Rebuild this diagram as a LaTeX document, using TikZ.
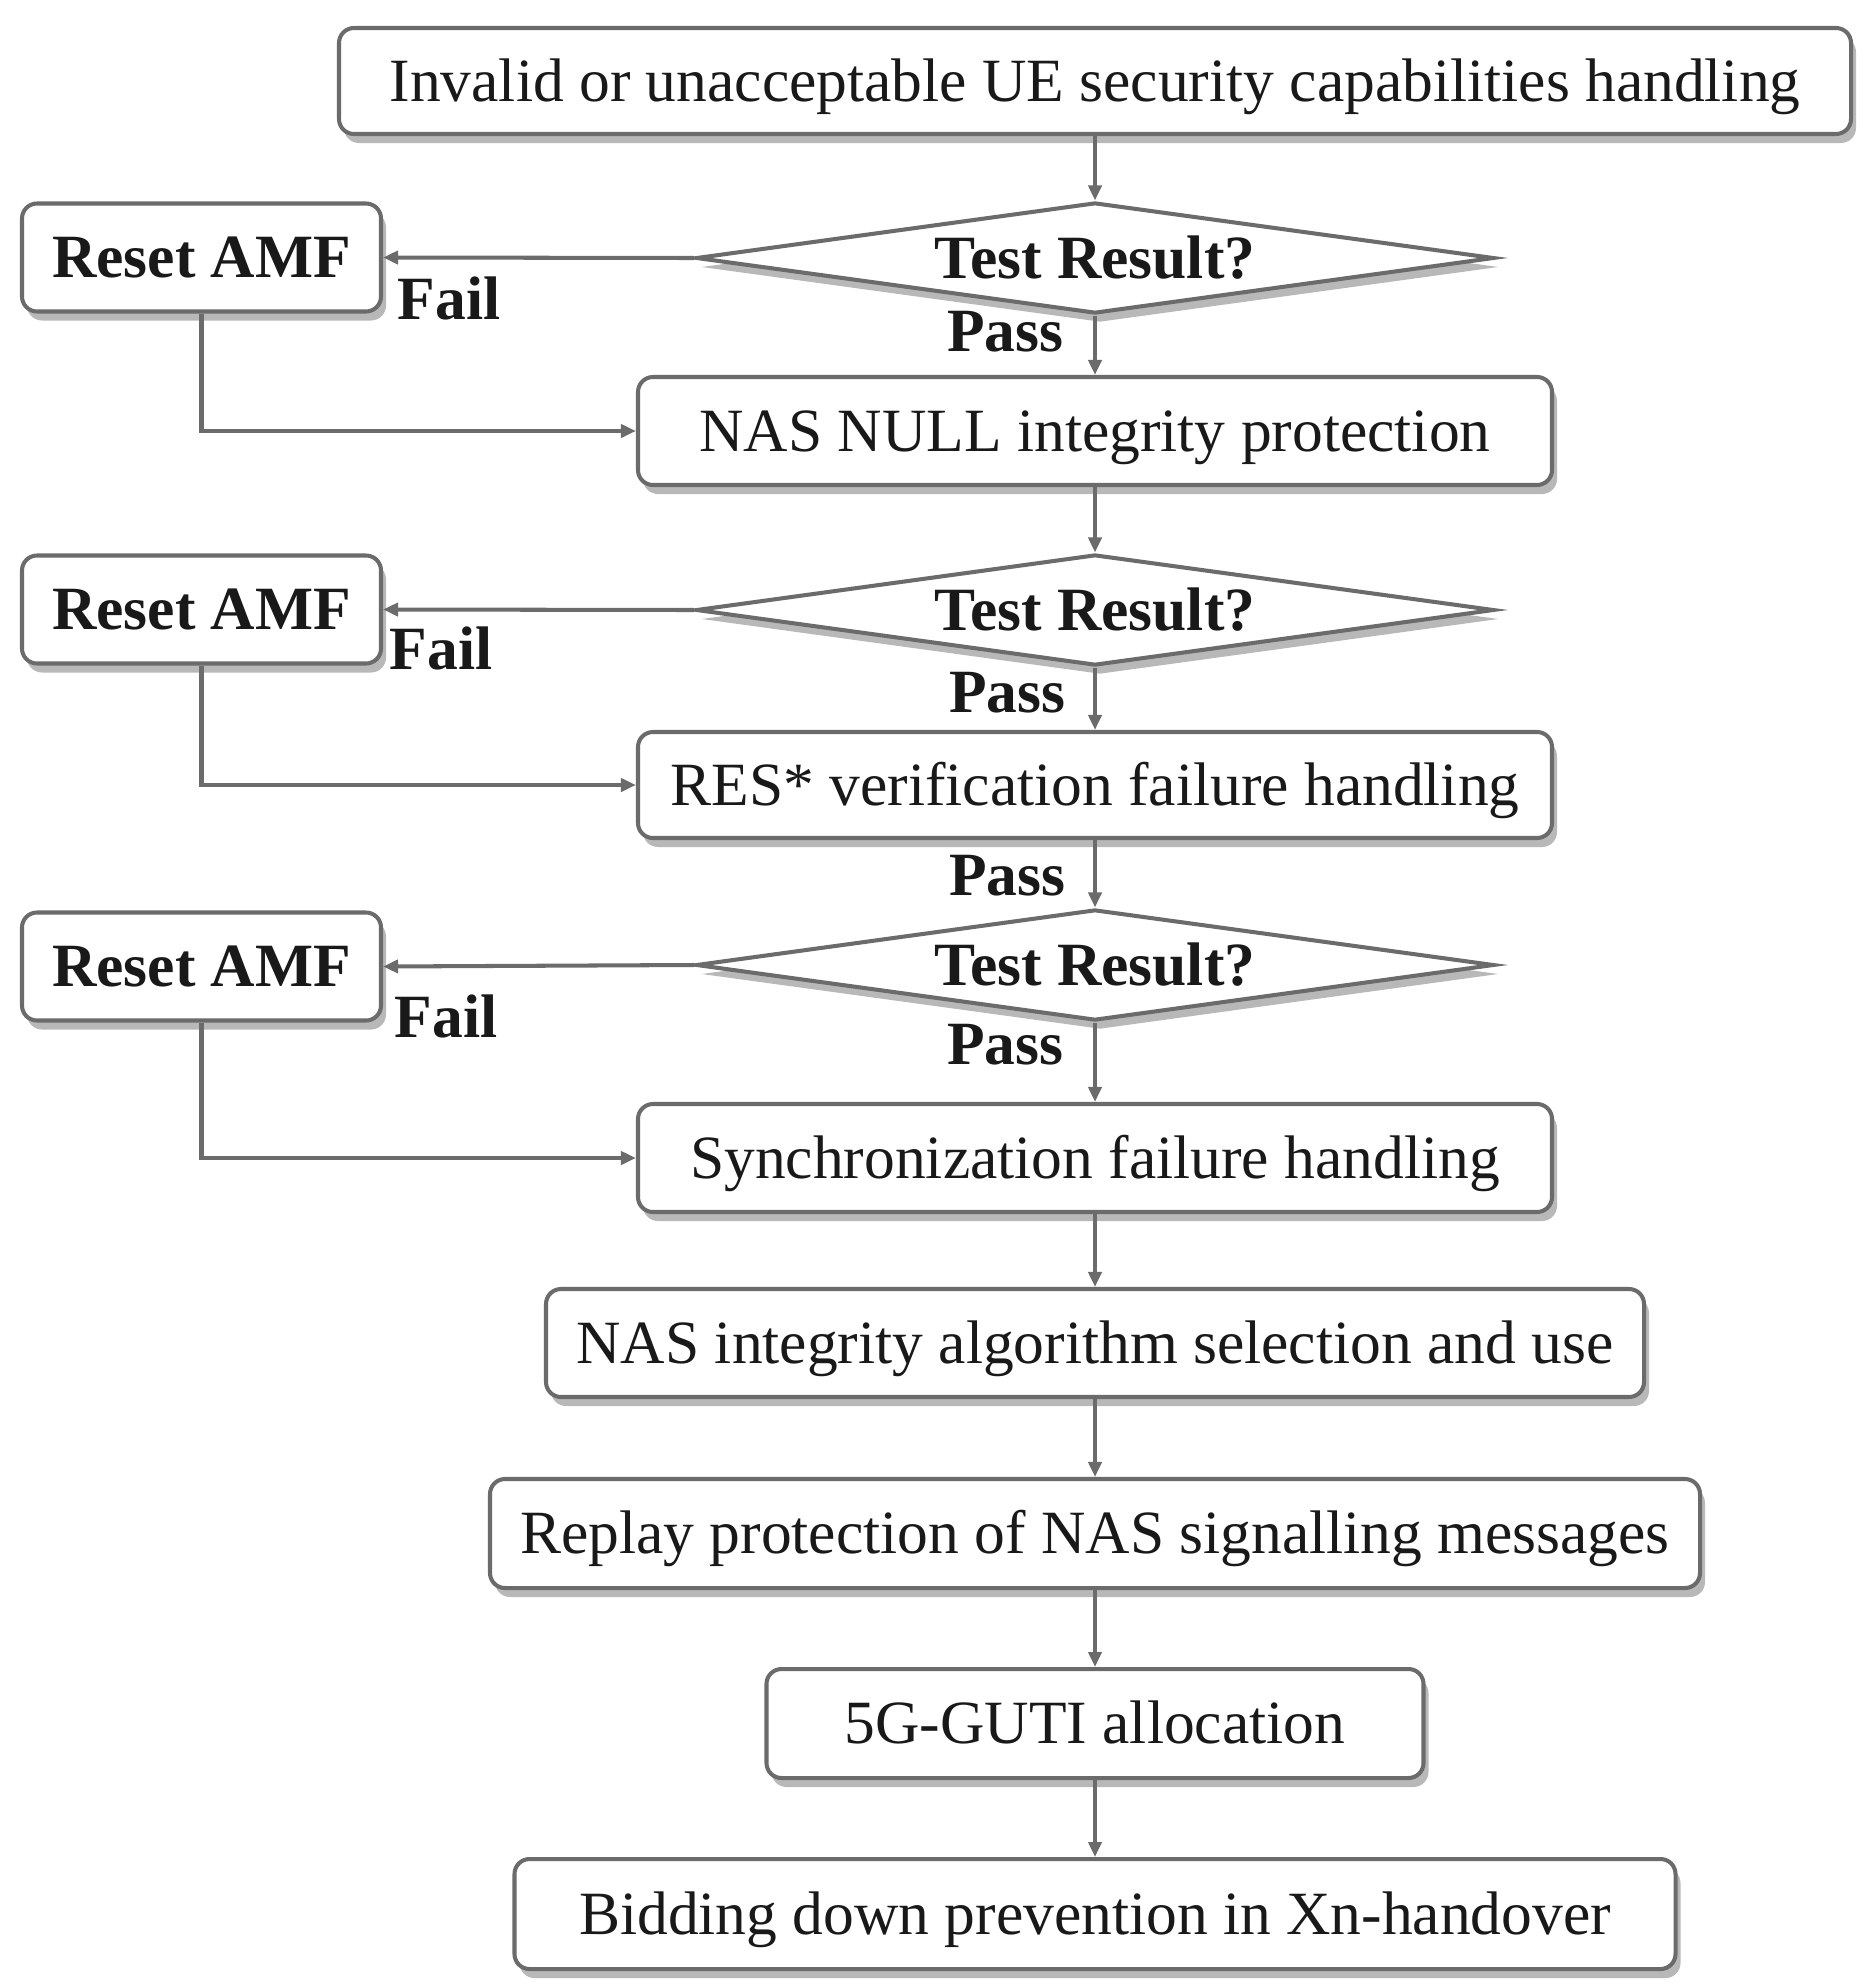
\documentclass[tikz,border=0pt]{standalone}
\usepackage{fontspec}
\setmainfont{Liberation Serif}
\usetikzlibrary{shapes.geometric,arrows.meta,shadows}
\begin{document}
\begin{tikzpicture}[
  x=1cm,y=1cm,
  font=\fontsize{17.5pt}{20pt}\selectfont,
  lc/.style={draw=black!58, line width=1.15pt},
  shad/.style={drop shadow={shadow xshift=0.5mm, shadow yshift=-0.9mm, fill=black, opacity=0.28}},
  procbox/.style={lc, shad, fill=white, rounded corners=0.15cm, inner sep=0pt, text=black!90, text height=11.6pt, text depth=0pt},
  resetbox/.style={procbox, font=\fontsize{17.5pt}{20pt}\selectfont\bfseries, minimum width=3.59cm, minimum height=1.08cm},
  testdia/.style={lc, shad, fill=white, diamond, aspect=7.2, inner sep=0pt, minimum width=7.98cm, minimum height=1.11cm, font=\fontsize{17.5pt}{20pt}\selectfont\bfseries, text=black!90, text height=11.6pt, text depth=0pt},
  lbl/.style={font=\fontsize{17.5pt}{20pt}\selectfont\bfseries, inner sep=0pt, text=black!90},
  conn/.style={lc, -{Triangle[length=1.5mm,width=1.3mm]}}
]
\useasboundingbox (0,0) rectangle (18.73,-19.86);

\node[procbox, minimum width=15.12cm, minimum height=1.06cm] (top) at (10.95,-0.81) {Invalid or unacceptable UE security capabilities handling};

\node[testdia] (d1) at (10.95,-2.58) {Test Result?};
\node[resetbox] (r1) at (2.015,-2.575) {Reset AMF};
\node[procbox, minimum width=9.14cm, minimum height=1.08cm] (b1) at (10.95,-4.31) {NAS NULL integrity protection};

\node[testdia] (d2) at (10.95,-6.10) {Test Result?};
\node[resetbox] (r2) at (2.015,-6.095) {Reset AMF};
\node[procbox, minimum width=9.14cm, minimum height=1.06cm] (b2) at (10.95,-7.85) {RES* verification failure handling};

\node[testdia] (d3) at (10.95,-9.65) {Test Result?};
\node[resetbox] (r3) at (2.015,-9.665) {Reset AMF};
\node[procbox, minimum width=9.14cm, minimum height=1.08cm] (b3) at (10.95,-11.58) {Synchronization failure handling};

\node[procbox, minimum width=10.98cm, minimum height=1.08cm] (b4) at (10.95,-13.43) {NAS integrity algorithm selection and use};
\node[procbox, minimum width=12.10cm, minimum height=1.09cm] (b5) at (10.95,-15.335) {Replay protection of NAS signalling messages};
\node[procbox, minimum width=6.57cm, minimum height=1.09cm] (b6) at (10.95,-17.235) {5G-GUTI allocation};
\node[procbox, minimum width=11.61cm, minimum height=1.10cm] (b7) at (10.95,-19.14) {Bidding down prevention in Xn-handover};

% labels
\node[lbl, anchor=west] (f1) at (3.97,-2.98) {Fail};
\node[lbl, anchor=west] (f2) at (3.89,-6.48) {Fail};
\node[lbl, anchor=west] (f3) at (3.94,-10.16) {Fail};
\node[lbl, anchor=east] (p1) at (10.64,-3.32) {Pass};
\node[lbl, anchor=east] (p2) at (10.66,-6.93) {Pass};
\node[lbl, anchor=east] (p3) at (10.66,-8.76) {Pass};
\node[lbl, anchor=east] (p4) at (10.64,-10.45) {Pass};

% connectors
\draw[conn] (top) -- (d1);
\draw[conn] (d1) -- (b1);
\draw[conn] (d1.west) -- (r1.east);
\draw[conn] (r1.south) |- (b1.west);

\draw[conn] (b1) -- (d2);
\draw[conn] (d2) -- (b2);
\draw[conn] (d2.west) -- (r2.east);
\draw[conn] (r2.south) |- (b2.west);

\draw[conn] (b2) -- (d3);
\draw[conn] (d3) -- (b3);
\draw[conn] (d3.west) -- (r3.east);
\draw[conn] (r3.south) |- (b3.west);

\draw[conn] (b3) -- (b4);
\draw[conn] (b4) -- (b5);
\draw[conn] (b5) -- (b6);
\draw[conn] (b6) -- (b7);
\end{tikzpicture}
\end{document}
